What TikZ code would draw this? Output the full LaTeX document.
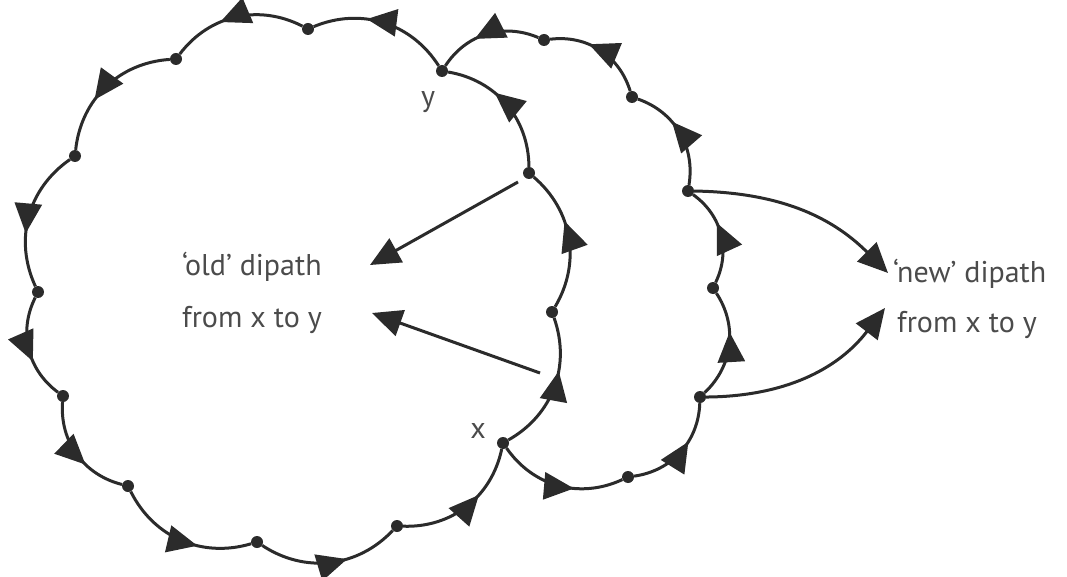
\documentclass[tikz,border=0pt]{standalone}
\usepackage{fontspec}
\setmainfont{PT Sans}
\usetikzlibrary{arrows.meta,decorations.markings}
\definecolor{ink}{HTML}{2B2B2B}

\begin{document}
\begin{tikzpicture}[x=1pt,y=1pt,
    every circle node/.style={fill=ink,inner sep=0pt,minimum size=12pt},
    darc/.style={draw=ink,line width=3pt,postaction={decorate},
        decoration={markings,mark=at position 0.62 with {\arrow{Triangle[length=30pt,width=27pt]}}}},
    pointer/.style={draw=ink,line width=3pt,-{Triangle[length=30pt,width=27pt]}},
    lbl/.style={text=ink!85,font=\fontsize{30}{30}\selectfont,inner sep=0pt,anchor=base west}]
            \useasboundingbox (0, 0) rectangle (1067, -577);
            \draw (442, -71) node[circle](y){};
            \draw (308, -29) node[circle](1){};
            \draw[darc] (y) to[bend right=40] (1);
            \draw (176, -59) node[circle](2){};
            \draw[darc] (1) to[bend right=40] (2);
            \draw (75, -156) node[circle](3){};
            \draw[darc] (2) to[bend right=40] (3);
            \draw (38, -292) node[circle](4){};
            \draw[darc] (3) to[bend right=40] (4);
            \draw (63, -396) node[circle](5){};
            \draw[darc] (4) to[bend right=40] (5);
            \draw (128, -486) node[circle](6){};
            \draw[darc] (5) to[bend right=40] (6);
            \draw (257, -542) node[circle](7){};
            \draw[darc] (6) to[bend right=40] (7);
            \draw (397, -526) node[circle](8){};
            \draw[darc] (7) to[bend right=40] (8);
            \draw (503, -443) node[circle](x){};
            \draw[darc] (8) to[bend right=40] (x);
            \draw (552, -312) node[circle](9){};
            \draw[darc] (x) to[bend right=40] (9);
            \draw (529, -173) node[circle](10){};
            \draw[darc] (9) to[bend right=40] (10);
            \draw[darc] (10) to[bend right=40] (y);
            \draw (628, -477) node[circle](11){};
            \draw[darc] (x) to[bend right=40] (11);
            \draw (700, -397) node[circle](12){};
            \draw[darc] (11) to[bend right=40] (12);
            \draw (713, -288) node[circle](13){};
            \draw[darc] (12) to[bend right=40] (13);
            \draw (688, -191) node[circle](14){};
            \draw[darc] (13) to[bend right=40] (14);
            \draw (632, -97) node[circle](15){};
            \draw[darc] (14) to[bend right=40] (15);
            \draw (544, -40) node[circle](16){};
            \draw[darc] (15) to[bend right=40] (16);
            \draw[darc] (16) to[bend right=40] (y);
            \node[lbl, anchor=base] (ylab) at (428, -107) {y};
            \node[lbl, anchor=base] (xlab) at (478, -438) {x};
            \node[lbl] (old) at (182, -275) {‘old’ dipath};
            \node[lbl] (oldxy) at (182, -327) {from x to y};
            \node[lbl] (new) at (893, -282) {‘new’ dipath};
            \node[lbl] (newxy) at (897, -332) {from x to y};
            \coordinate (s1) at (518, -182);
            \coordinate (t1) at (370, -265);
            \draw[pointer] (s1) -- (t1);
            \coordinate (s2) at (540, -373);
            \coordinate (t2) at (372, -313);
            \draw[pointer] (s2) -- (t2);
            \coordinate (t3) at (888, -273);
            \draw[pointer] (14) to[bend left=22] (t3);
            \coordinate (t4) at (885, -308);
            \draw[pointer] (12) to[bend right=26] (t4);
\end{tikzpicture}
\end{document}
